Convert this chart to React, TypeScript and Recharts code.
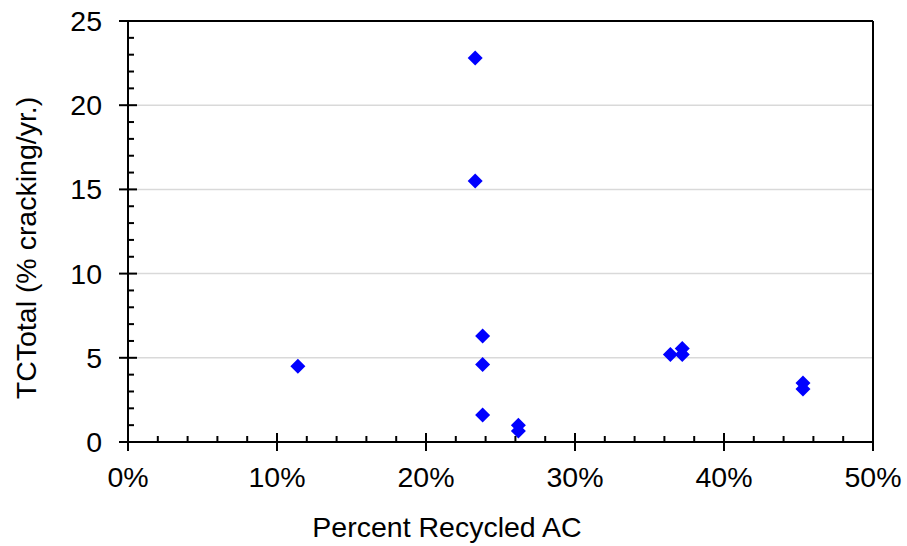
import React from 'react'
import {ScatterChart, Scatter, XAxis, YAxis, CartesianGrid, ReferenceLine} from 'recharts'

// Percent recycled AC (x) vs TCTotal (% cracking/yr.) (y)
const recycledPct: number[] = [11.4, 23.3, 23.3, 23.8, 23.8, 23.8, 26.2, 26.2, 36.4, 37.2, 37.2, 45.3, 45.3]
const tcTotal: number[] = [4.5, 22.8, 15.5, 6.3, 4.6, 1.6, 1.0, 0.65, 5.2, 5.55, 5.2, 3.5, 3.15]

const xTicks: number[] = [0, 2, 4, 6, 8, 10, 12, 14, 16, 18, 20, 22, 24, 26, 28, 30, 32, 34, 36, 38, 40, 42, 44, 46, 48, 50]
const yTicks: number[] = [0, 1, 2, 3, 4, 5, 6, 7, 8, 9, 10, 11, 12, 13, 14, 15, 16, 17, 18, 19, 20, 21, 22, 23, 24, 25]
const gridValues: number[] = [5, 10, 15, 20]

const points = recycledPct.map((x, i) => ({x, y: tcTotal[i]}))

const FONT = '"Liberation Sans", Arial, sans-serif'
const FS = 28.5

const XTick = (props: any) => {
  const {x, y, payload} = props
  const major = payload.value % 10 === 0
  return (
    <g>
      {major ? (
        <line x1={x} x2={x} y1={y - 9} y2={y + 9} stroke='#000' strokeWidth={2} />
      ) : (
        <line x1={x} x2={x} y1={y - 6} y2={y} stroke='#000' strokeWidth={2} />
      )}
      {major && (
        <text x={x} y={y + 45} textAnchor='middle' fontSize={FS} fontFamily={FONT} fill='#000'>
          {`${payload.value}%`}
        </text>
      )}
    </g>
  )
}

const YTick = (props: any) => {
  const {x, y, payload} = props
  const major = payload.value % 5 === 0
  return (
    <g>
      {major ? (
        <line x1={x - 9} x2={x + 9} y1={y} y2={y} stroke='#000' strokeWidth={2} />
      ) : (
        <line x1={x} x2={x + 6} y1={y} y2={y} stroke='#000' strokeWidth={2} />
      )}
      {major && (
        <text x={x - 26} y={y + 10} textAnchor='end' fontSize={FS} fontFamily={FONT} fill='#000'>
          {payload.value}
        </text>
      )}
    </g>
  )
}

const Diamond = (props: any) => {
  const {cx, cy} = props
  const r = 7.5
  return <polygon points={`${cx},${cy - r} ${cx + r},${cy} ${cx},${cy + r} ${cx - r},${cy}`} fill='#0000ff' />
}

const App: React.FC = () => {
  return (
    <div style={{position: 'absolute', left: 0, top: 0, background: '#fff'}}>
      <ScatterChart width={907} height={546} margin={{top: 21, right: 34, bottom: 0, left: 0}}>
        <CartesianGrid horizontal vertical={false} horizontalValues={gridValues} stroke='#d9d9d9' strokeWidth={1.5} />
        <XAxis
          type='number'
          dataKey='x'
          domain={[0, 50]}
          ticks={xTicks}
          interval={0}
          tickSize={0}
          tickMargin={0}
          height={104}
          axisLine={{stroke: '#000', strokeWidth: 2}}
          tickLine={false}
          tick={<XTick />}
          label={(p: any) => (
            <text x={447} y={p.viewBox.y + 95} textAnchor='middle' fontSize={FS} fontFamily={FONT} fill='#000'>
              Percent Recycled AC
            </text>
          )}
        />
        <YAxis
          type='number'
          dataKey='y'
          domain={[0, 25]}
          ticks={yTicks}
          interval={0}
          tickSize={0}
          tickMargin={0}
          width={128}
          axisLine={{stroke: '#000', strokeWidth: 2}}
          tickLine={false}
          tick={<YTick />}
          label={() => (
            <text
              x={36}
              y={248}
              transform='rotate(-90 36 248)'
              textAnchor='middle'
              fontSize={FS}
              fontFamily={FONT}
              fill='#000'
            >
              TCTotal (% cracking/yr.)
            </text>
          )}
        />
        <ReferenceLine y={25} stroke='#000' strokeWidth={2} />
        <ReferenceLine x={50} stroke='#000' strokeWidth={2} />
        <Scatter data={points} shape={<Diamond />} isAnimationActive={false} />
      </ScatterChart>
    </div>
  )
}

export default App
